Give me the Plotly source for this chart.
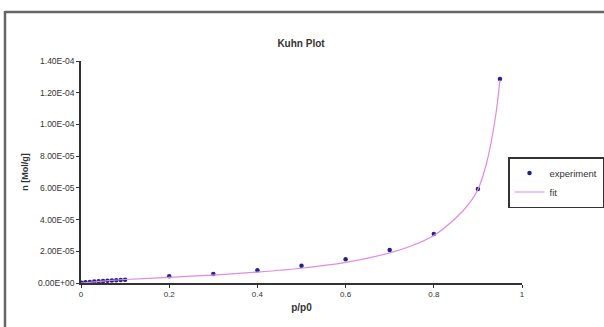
import plotly.graph_objects as go

# experiment data
exp_x = [0.001, 0.01, 0.02, 0.03, 0.04, 0.05, 0.06, 0.07, 0.08, 0.09, 0.1,
         0.2, 0.3, 0.4, 0.5, 0.6, 0.7, 0.8, 0.9, 0.95]
exp_y = [2e-7, 5e-7, 7e-7, 9e-7, 1.05e-6, 1.2e-6, 1.4e-6, 1.55e-6, 1.7e-6, 1.85e-6, 2.0e-6,
         4.2e-6, 5.7e-6, 8.0e-6, 1.09e-5, 1.5e-5, 2.08e-5, 3.09e-5, 5.93e-5, 1.286e-4]

# fit curve
fit_x = [0.0, 0.05, 0.1, 0.2, 0.3, 0.4, 0.5, 0.6, 0.7, 0.75, 0.8, 0.85, 0.88, 0.9, 0.92, 0.94, 0.95]
fit_y = [0.0, 1.2e-6, 2.2e-6, 3.6e-6, 5.0e-6, 6.9e-6, 9.3e-6, 1.3e-5, 1.9e-5, 2.35e-5, 3.0e-5,
         4.1e-5, 5.0e-5, 5.9e-5, 7.6e-5, 1.05e-4, 1.28e-4]

x_ticks = [0, 0.2, 0.4, 0.6, 0.8, 1]
x_labels = ["0", "0.2", "0.4", "0.6", "0.8", "1"]
y_ticks = [0, 2e-5, 4e-5, 6e-5, 8e-5, 1e-4, 1.2e-4, 1.4e-4]
y_labels = ["0.00E+00", "2.00E-05", "4.00E-05", "6.00E-05", "8.00E-05", "1.00E-04", "1.20E-04", "1.40E-04"]

FONT = "Liberation Sans, Arial, sans-serif"

fig = go.Figure()
fig.add_trace(go.Scatter(x=exp_x, y=exp_y, mode="markers", name="experiment",
                         marker=dict(color="#22228a", size=4.5)))
fig.add_trace(go.Scatter(x=fit_x, y=fit_y, mode="lines", name="fit",
                         line=dict(color="#e08ae0", width=1.2, shape="spline", smoothing=0.8)))

L, R, T, B = 81, 522, 61, 283
W, H = 604, 327

fig.update_layout(
    width=W, height=H,
    margin=dict(l=L, r=W - R, t=T, b=H - B, autoexpand=False),
    paper_bgcolor="white", plot_bgcolor="white",
    font=dict(family=FONT, size=8, color="#333"),
    title=dict(text="<b>Kuhn Plot</b>", x=301 / W, xref="container", xanchor="center",
               y=1 - 43 / H, yref="container", yanchor="middle", font=dict(size=10, color="#333")),
    showlegend=True,
    legend=dict(x=508 / W, y=1 - 157 / H, xref="container", yref="container",
                xanchor="left", yanchor="top",
                bordercolor="#333", borderwidth=1.5, bgcolor="white",
                font=dict(size=9.5), tracegroupgap=0, itemwidth=30),
    xaxis=dict(range=[0, 1], tickvals=x_ticks, ticktext=x_labels, showgrid=False,
               zeroline=False, showline=True, linecolor="#333", linewidth=1.5,
               ticks="outside", ticklen=3, tickcolor="#333",
               tickfont=dict(size=8),
               title=dict(text="<b>p/p0</b>", font=dict(size=10), standoff=6)),
    yaxis=dict(range=[0, 1.4e-4], tickvals=y_ticks, ticktext=y_labels, showgrid=False,
               zeroline=False, showline=True, linecolor="#333", linewidth=1.5,
               ticks="outside", ticklen=3, tickcolor="#333",
               tickfont=dict(size=8.5),
               title=dict(text="<b>n [Mol/g]</b>", font=dict(size=9), standoff=8)),
    shapes=[
        dict(type="line", xref="paper", yref="paper",
             x0=(5 - L) / (R - L), x1=(W - L) / (R - L),
             y0=(B - 12) / (B - T), y1=(B - 12) / (B - T),
             line=dict(color="#666", width=2.5), layer="below"),
        dict(type="line", xref="paper", yref="paper",
             x0=(5 - L) / (R - L), x1=(5 - L) / (R - L),
             y0=(B - 11) / (B - T), y1=(B - H) / (B - T),
             line=dict(color="#666", width=2.5), layer="below"),
    ],
)

fig.write_html("out.html")
